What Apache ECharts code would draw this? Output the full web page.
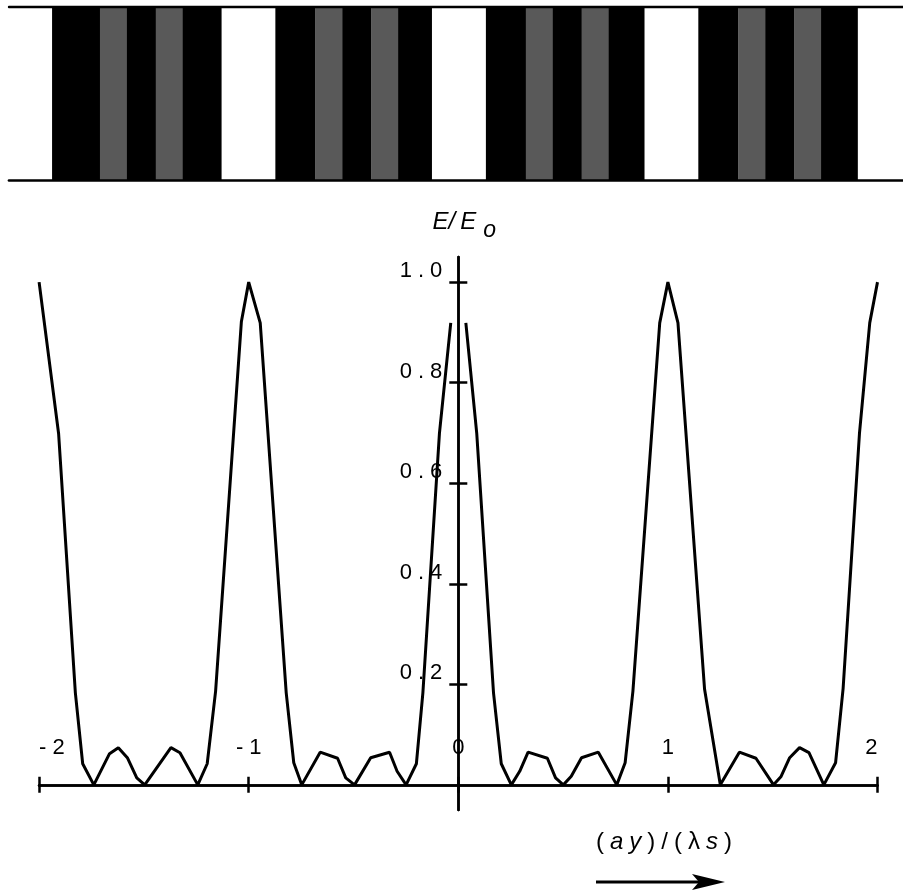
<!DOCTYPE html>
<html><head><meta charset="utf-8">
<script src="https://cdn.jsdelivr.net/npm/echarts@6/dist/echarts.min.js"></script>
<style>html,body{margin:0;padding:0;background:#fff}#c{width:903px;height:892px}</style>
</head><body><div id="c"></div>
<script>
// ---- curve: (ay)/(λs) vs E/Eo (0 is undefined -> gap)
const xValues = [-2.000,-1.907,-1.827,-1.792,-1.739,-1.664,-1.622,-1.579,-1.534,-1.496,-1.371,-1.328,-1.243,-1.198,-1.158,-1.035,-1.000,
  -0.945,-0.821,-0.785,-0.747,-0.659,-0.576,-0.537,-0.495,-0.418,-0.328,-0.292,-0.249,-0.200,-0.169,-0.090,-0.036,
  0,
  0.036,0.088,0.168,0.205,0.253,0.293,0.333,0.425,0.464,0.501,0.539,0.588,0.668,0.756,0.796,0.833,0.961,1.000,
  1.048,1.175,1.250,1.341,1.420,1.504,1.539,1.581,1.628,1.673,1.744,1.800,1.836,1.914,1.963,2.000];
const yValues = [1.000,0.699,0.183,0.042,0.000,0.062,0.074,0.054,0.014,0.000,0.074,0.064,0.000,0.042,0.186,0.921,1.000,
  0.919,0.183,0.044,0.000,0.065,0.053,0.014,0.000,0.054,0.065,0.027,0.000,0.042,0.183,0.699,0.919,
  null,
  0.919,0.699,0.183,0.042,0.000,0.027,0.065,0.053,0.014,0.000,0.017,0.054,0.065,0.000,0.044,0.186,0.919,1.000,
  0.919,0.190,0.000,0.065,0.053,0.000,0.016,0.054,0.074,0.064,0.000,0.044,0.192,0.699,0.919,1.000];
const xTickValues = [-2,-1,0,1,2];
const yTickValues = [0.2,0.4,0.6,0.8,1.0];
// ---- fringe band (same (ay)/(λs) units): edges and shade of each stripe
const bandEdges = [-2.144,-1.938,-1.709,-1.580,-1.442,-1.313,-1.127,-0.870,-0.679,-0.550,-0.412,-0.283,-0.121,
  0.137,0.328,0.457,0.595,0.724,0.896,1.153,1.344,1.473,1.612,1.740,1.916,2.132];
const bandShades = ['W','B','G','B','G','B','W','B','G','B','G','B','W','B','G','B','G','B','W','B','G','B','G','B','W'];

const FONT = "'Liberation Sans', Arial, Helvetica, sans-serif";
const shadeColor = {W:'#ffffff', B:'#000000', G:'#595959'};
const curveData = xValues.map((x,i)=>[x, yValues[i]]);
const bandData = bandShades.map((s,i)=>[bandEdges[i], bandEdges[i+1], s]);

// main grid geometry
const G = {left:39.1, right:25.5, top:257, bottom:82, W:903, H:892};
const yMin = -0.05, yMax = 1.05;
const plotW = G.W - G.left - G.right, plotH = G.H - G.top - G.bottom;
const yAxisOffset = -plotW * (0 - xTickValues[0]) / (xTickValues[xTickValues.length-1] - xTickValues[0]);
const xAxisOffset = -plotH * (0 - yMin) / (yMax - yMin);

function spaced(s, key){
  return s.split('').map((c,i)=>(i===0?'{'+key+'0|':'{'+key+'|')+c+'}').join('');
}
const LS = 22;
const labelRich = {
  f0:{fontSize:LS, fontFamily:FONT, color:'#000', lineHeight:LS},
  f:{fontSize:LS, fontFamily:FONT, color:'#000', lineHeight:LS, padding:[0,0,0,6]}
};
const axisStyle = {color:'#000', width:2.5};

const chart = echarts.init(document.getElementById('c'), null, {renderer:'canvas'});
chart.setOption({
  animation:false,
  backgroundColor:'#fff',
  textStyle:{fontFamily:FONT},
  grid:[
    {left:G.left, right:G.right, top:G.top, bottom:G.bottom, containLabel:false, outerBoundsMode:'none'},
    {left:9, right:0, top:6.5, height:174, containLabel:false, outerBoundsMode:'none'}
  ],
  xAxis:[
    {gridIndex:0, type:'value', min:-2, max:2, interval:1, position:'bottom', offset:xAxisOffset,
     axisLine:{onZero:false, lineStyle:axisStyle},
     axisTick:{show:true, length:8, lineStyle:axisStyle},
     axisLabel:{inside:true, margin:26, fontSize:LS, fontFamily:FONT, color:'#000',
       formatter:v=>spaced(String(v),'f'), rich:labelRich,
       alignMinLabel:'left', alignMaxLabel:'right', showMinLabel:true, showMaxLabel:true, hideOverlap:false},
     splitLine:{show:false}},
    {gridIndex:0, type:'value', min:-2, max:2, interval:1, position:'bottom', offset:xAxisOffset,
     axisLine:{onZero:false, lineStyle:axisStyle},
     axisTick:{show:true, inside:true, length:8, lineStyle:axisStyle},
     axisLabel:{show:false}, splitLine:{show:false}},
    {gridIndex:1, type:'value', min:-2.144, max:2.132, position:'bottom', z:10,
     axisLine:{onZero:false, lineStyle:{color:'#000', width:2.7}},
     axisTick:{show:false}, axisLabel:{show:false}, splitLine:{show:false}},
    {gridIndex:1, type:'value', min:-2.144, max:2.132, position:'top', z:10,
     axisLine:{onZero:false, lineStyle:{color:'#000', width:2.4}},
     axisTick:{show:false}, axisLabel:{show:false}, splitLine:{show:false}}
  ],
  yAxis:[
    {gridIndex:0, type:'value', min:yMin, max:yMax, position:'left', offset:yAxisOffset,
     axisLine:{onZero:false, lineStyle:axisStyle},
     axisTick:{show:true, length:9, lineStyle:axisStyle, customValues:yTickValues},
     axisLabel:{margin:16, verticalAlign:'bottom', customValues:yTickValues, hideOverlap:false,
       fontSize:LS, fontFamily:FONT, color:'#000',
       formatter:v=>spaced(v.toFixed(1),'f'), rich:labelRich},
     splitLine:{show:false},
     name:'{e|E}{e|/}{e2|E}{s|o}', nameLocation:'end', nameGap:15,
     nameTextStyle:{align:'center', padding:[0,0,0,12], fontSize:24, fontFamily:FONT, rich:{
       e:{fontSize:24, fontStyle:'italic', fontFamily:FONT, color:'#000'},
       e2:{fontSize:24, fontStyle:'italic', fontFamily:FONT, color:'#000', padding:[0,0,0,5]},
       s:{fontSize:23, fontStyle:'italic', fontFamily:FONT, color:'#000', padding:[16,0,0,7]}
     }}},
    {gridIndex:0, type:'value', min:yMin, max:yMax, position:'left', offset:yAxisOffset,
     axisLine:{onZero:false, lineStyle:axisStyle},
     axisTick:{show:true, inside:true, length:9, lineStyle:axisStyle, customValues:yTickValues},
     axisLabel:{show:false}, splitLine:{show:false}},
    {gridIndex:1, type:'value', min:0, max:1, show:false}
  ],
  graphic:[
    {type:'text', left:596, top:830, style:{
      fontSize:24, fontFamily:FONT,
      text:'{n0|(}{i|a}{i|y}{n|)}{n|/}{n|(}{n|λ}{i|s}{n|)}', rich:{
        n0:{fontSize:24, fontFamily:FONT, fill:'#000'},
        n:{fontSize:24, fontFamily:FONT, fill:'#000', padding:[0,0,0,6]},
        i:{fontSize:24, fontFamily:FONT, fontStyle:'italic', fill:'#000', padding:[0,0,0,6]}
      }}},
    {type:'line', shape:{x1:596, y1:882, x2:712, y2:882}, style:{stroke:'#000', lineWidth:3}},
    {type:'polygon', shape:{points:[[692,874],[725,882],[692,890],[699,882]]}, style:{fill:'#000'}}
  ],
  series:[
    {type:'custom', xAxisIndex:2, yAxisIndex:2, data:bandData, z:1,
     encode:{x:[0,1]},
     renderItem:function(params, api){
       const p0 = api.coord([api.value(0), 1]);
       const p1 = api.coord([api.value(1), 0]);
       const s = bandData[params.dataIndex][2];
       return {type:'rect', shape:{x:p0[0], y:p0[1], width:p1[0]-p0[0]+0.3, height:p1[1]-p0[1]},
               style:{fill:shadeColor[s]}};
     }},
    {type:'line', xAxisIndex:0, yAxisIndex:0, data:curveData, symbol:'none', showSymbol:false,
     connectNulls:false, lineStyle:{color:'#000', width:3}, z:3}
  ]
});
</script>
</body></html>
